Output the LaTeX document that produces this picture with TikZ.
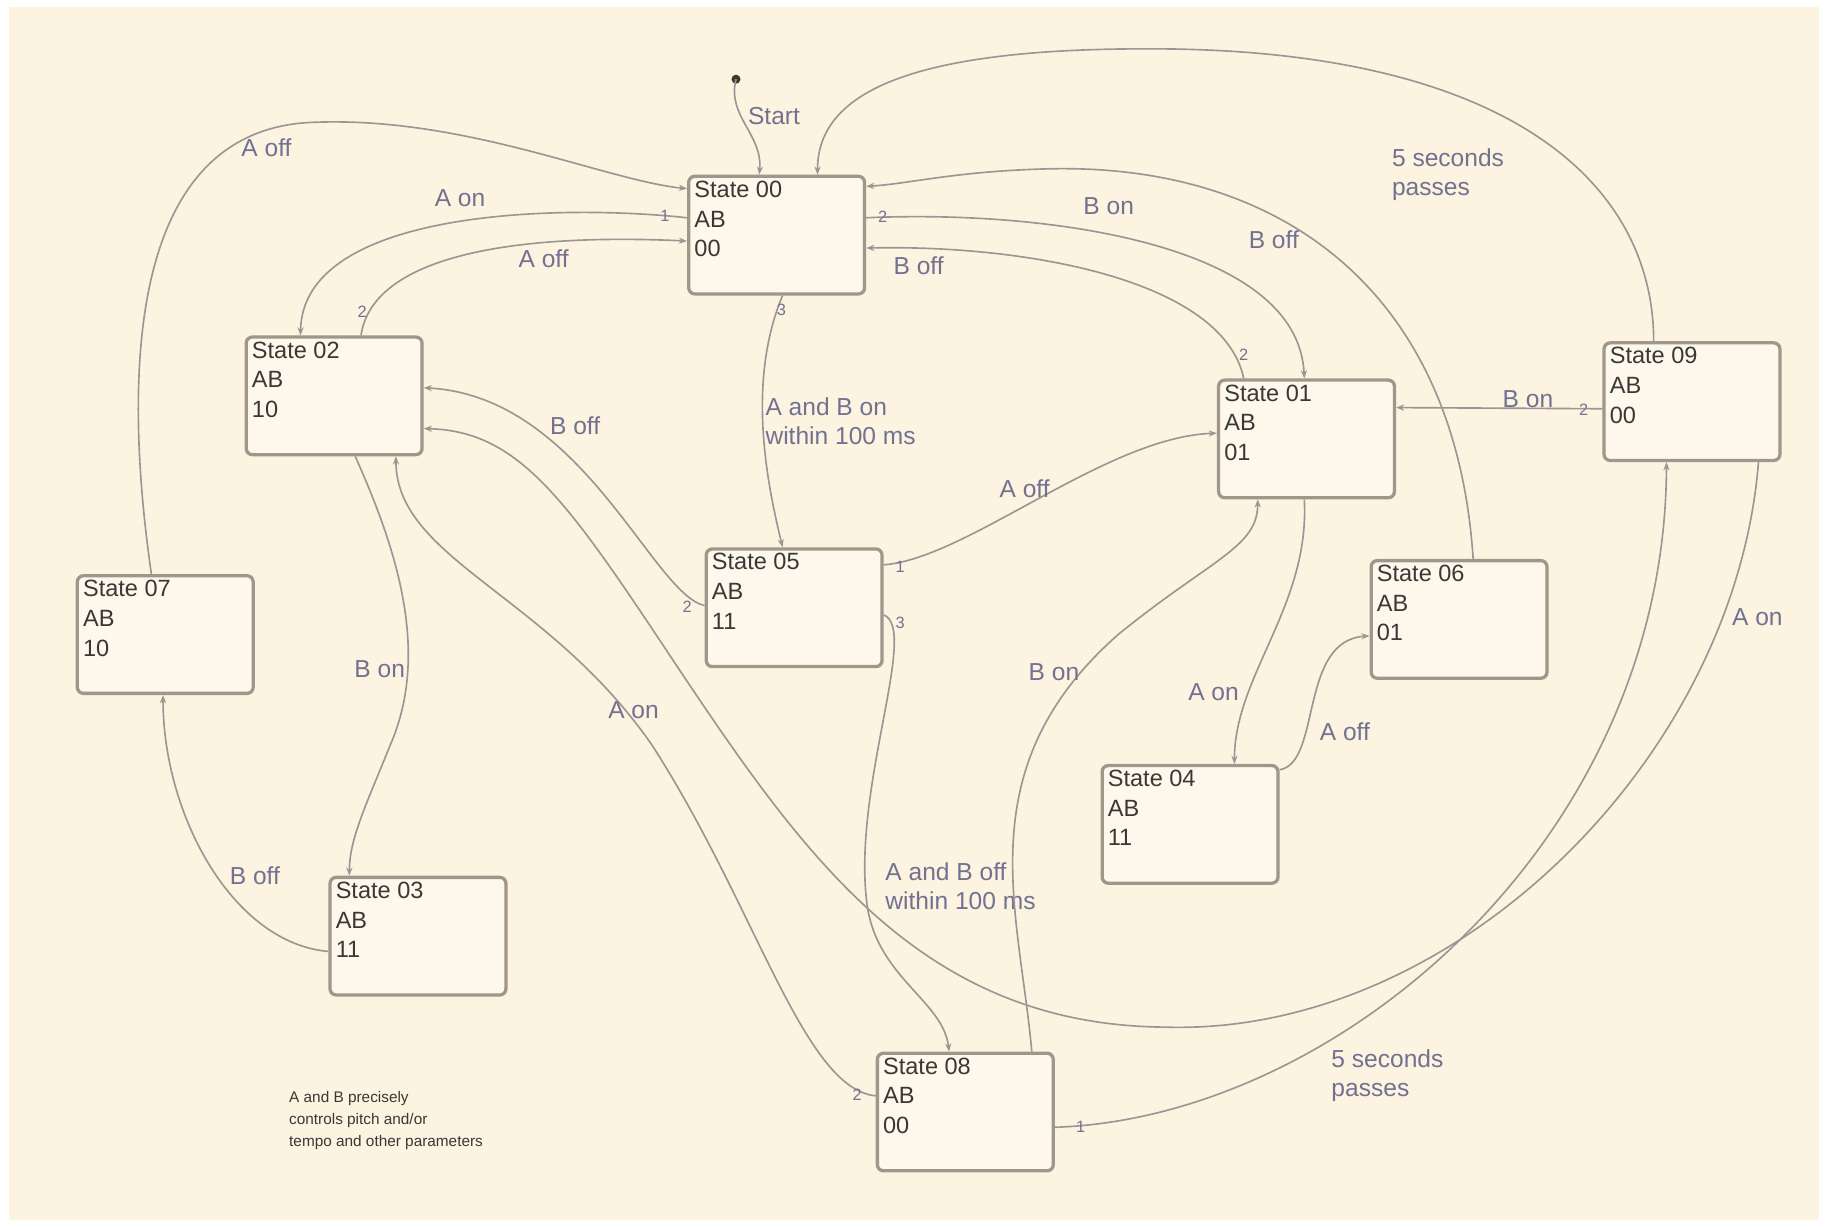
\documentclass[tikz,border=0pt]{standalone}
\usepackage{fontspec}
\setmainfont{Liberation Sans}
\usetikzlibrary{calc,arrows.meta}
\definecolor{paper}{HTML}{FCF3E1}
\definecolor{boxfill}{HTML}{FEF8EC}
\definecolor{boxline}{HTML}{9E978A}
\definecolor{wire}{HTML}{9A9792}
\definecolor{lbl}{HTML}{737190}
\definecolor{ink}{HTML}{3A3835}

\begin{document}
\begin{tikzpicture}[x=0.2mm,y=-0.2mm,
  statebox/.style={draw=boxline,line width=1.6pt,rounded corners=3pt,fill=boxfill,anchor=north west,
    minimum width=30.2mm,minimum height=20.2mm,inner sep=0pt},
  statetext/.style={anchor=north west,align=left,inner sep=0pt,text=ink,font=\fontsize{11.5}{14.5}\selectfont},
  trans/.style={draw=wire,line width=0.8pt,-{Stealth[length=4pt,width=3pt]}},
  cond/.style={text=lbl,align=left,anchor=west,inner sep=0pt,font=\fontsize{12}{14.2}\selectfont},
  prio/.style={text=lbl,inner sep=0pt,font=\fontsize{8}{9}\selectfont}]
\useasboundingbox (0,0) rectangle (1568,1054);
\fill[white] (0,0) rectangle (1568,1054);
\fill[paper] (8,6) rectangle (1562,1048);

% states
\foreach \n/\x/\y/\ab in {00/590/150/00, 01/1045/325/01, 02/210/288/10, 03/282/752/11, 04/945/656/11,
    05/605/470/11, 06/1176/480/01, 07/65/493/10, 08/752/903/00, 09/1376/293/00}{
  \node[statebox] (s\n) at (\x,\y) {};
  \node[statetext] (t\n) at ($(s\n.north west)+(6,5)$) {State \n\\AB\\\ab};
}

% start
\coordinate (init) at (632,68);
\fill[ink] (init) circle (2.2pt);
\draw[trans] (init) .. controls (624,100) and (655,115) .. ($(s00.north west)+(62,0)$);
\node[cond] (lstart) at (642,100) {Start};

% transitions out of state 00
\draw[trans] ($(s00.north west)+(0,37)$) .. controls (480,175) and (260,180) .. ($(s02.north west)+(48,0)$);
\node[cond] (l0002) at (373,170) {A on};
\node[prio] (p0002) at (571,185) {1};
\draw[trans] ($(s00.north east)+(0,37)$) .. controls (900,180) and (1115,210) .. ($(s01.north west)+(75,0)$);
\node[cond] (l0001) at (930,177) {B on};
\node[prio] (p0001) at (758,186) {2};
\draw[trans] ($(s00.south west)+(82,0)$) .. controls (640,330) and (660,420) .. ($(s05.north west)+(67,0)$);
\node[cond] (l0005) at (657,362) {A and B on\\within 100 ms};
\node[prio] (p0005) at (671,266) {3};

% back to state 00
\draw[trans] ($(s07.north west)+(65,0)$) .. controls (105,320) and (110,110) .. (270,105)
  .. controls (400,100) and (520,155) .. ($(s00.north west)+(0,12)$);
\node[cond] (l0700) at (207,127) {A off};
\draw[trans] ($(s02.north west)+(100,0)$) .. controls (320,220) and (440,200) .. ($(s00.north west)+(0,57)$);
\node[cond] (l0200) at (445,222) {A off};
\node[prio] (p0200) at (311,268) {2};
\draw[trans] ($(s01.north west)+(23,0)$) .. controls (1050,240) and (880,210) .. ($(s00.north east)+(0,63)$);
\node[cond] (l0100) at (767,228) {B off};
\node[prio] (p0100) at (1068,305) {2};
\draw[trans] ($(s06.north west)+(89,0)$) .. controls (1250,250) and (1100,140) .. (900,145)
  .. controls (820,147) and (780,158) .. ($(s00.north east)+(0,10)$);
\node[cond] (l0600) at (1072,206) {B off};
\draw[trans] ($(s09.north west)+(44,0)$) .. controls (1420,160) and (1300,45) .. (1000,42)
  .. controls (780,40) and (702,80) .. ($(s00.north west)+(112,0)$);
\node[cond] (l0900) at (1195,150) {5 seconds\\passes};

% state 05
\draw[trans] ($(s05.north east)+(0,15)$) .. controls (830,480) and (950,375) .. ($(s01.north west)+(0,47)$);
\node[cond] (l0501) at (858,420) {A off};
\node[prio] (p0501) at (773,487) {1};
\draw[trans] ($(s05.north west)+(0,50)$) .. controls (560,510) and (500,340) .. ($(s02.north east)+(0,45)$);
\node[cond] (l0502) at (472,366) {B off};
\node[prio] (p0502) at (590,521) {2};
\draw[trans] ($(s05.north east)+(0,58)$) .. controls (790,540) and (730,680) .. (745,780)
  .. controls (755,840) and (810,860) .. ($(s08.north west)+(63,0)$);
\node[cond] (l0508) at (760,761) {A and B off\\within 100 ms};
\node[prio] (p0508) at (773,535) {3};

% state 08
\draw[trans] ($(s08.north west)+(0,38)$) .. controls (690,935) and (650,780) .. (560,640)
  .. controls (470,510) and (340,480) .. ($(s02.south west)+(130,0)$);
\node[cond] (l0802) at (522,610) {A on};
\node[prio] (p0802) at (736,940) {2};
\draw[trans] ($(s08.north west)+(134,0)$) .. controls (875,780) and (830,660) .. (960,545)
  .. controls (1040,480) and (1080,470) .. ($(s01.south west)+(35,0)$);
\node[cond] (l0801) at (883,577) {B on};
\draw[trans] ($(s08.north east)+(0,65)$) .. controls (1150,960) and (1430,720) .. ($(s09.south west)+(55,0)$);
\node[cond] (l0809) at (1143,924) {5 seconds\\passes};
\node[prio] (p0809) at (928,968) {1};

% state 09
\draw[trans] ($(s09.north west)+(0,58)$) -- ($(s01.north east)+(0,25)$);
\node[cond] (l0901) at (1290,343) {B on};
\node[prio] (p0901) at (1360,352) {2};
\draw[trans] ($(s09.south west)+(134,0)$) .. controls (1490,650) and (1250,890) .. (1000,882)
  .. controls (780,880) and (680,720) .. (560,540)
  .. controls (480,420) and (440,370) .. ($(s02.north east)+(0,80)$);
\node[cond] (l0902) at (1487,530) {A on};

% left side
\draw[trans] ($(s02.south west)+(95,0)$) .. controls (340,470) and (370,560) .. (335,640)
  .. controls (315,690) and (300,720) .. ($(s03.north west)+(18,0)$);
\node[cond] (l0203) at (304,575) {B on};
\draw[trans] ($(s03.north west)+(0,65)$) .. controls (200,810) and (140,700) .. ($(s07.south west)+(75,0)$);
\node[cond] (l0307) at (197,752) {B off};

% right side
\draw[trans] ($(s01.south west)+(75,0)$) .. controls (1125,520) and (1060,580) .. ($(s04.north west)+(115,0)$);
\node[cond] (l0104) at (1020,594) {A on};
\draw[trans] ($(s04.north east)+(0,5)$) .. controls (1135,655) and (1115,550) .. ($(s06.north west)+(0,66)$);
\node[cond] (l0406) at (1133,628) {A off};

% note
\node[anchor=west,align=left,inner sep=0pt,text=ink,font=\fontsize{7.5}{10.8}\selectfont] (note) at (248,962)
  {A and B precisely\\controls pitch and/or\\tempo and other parameters};
\end{tikzpicture}
\end{document}
